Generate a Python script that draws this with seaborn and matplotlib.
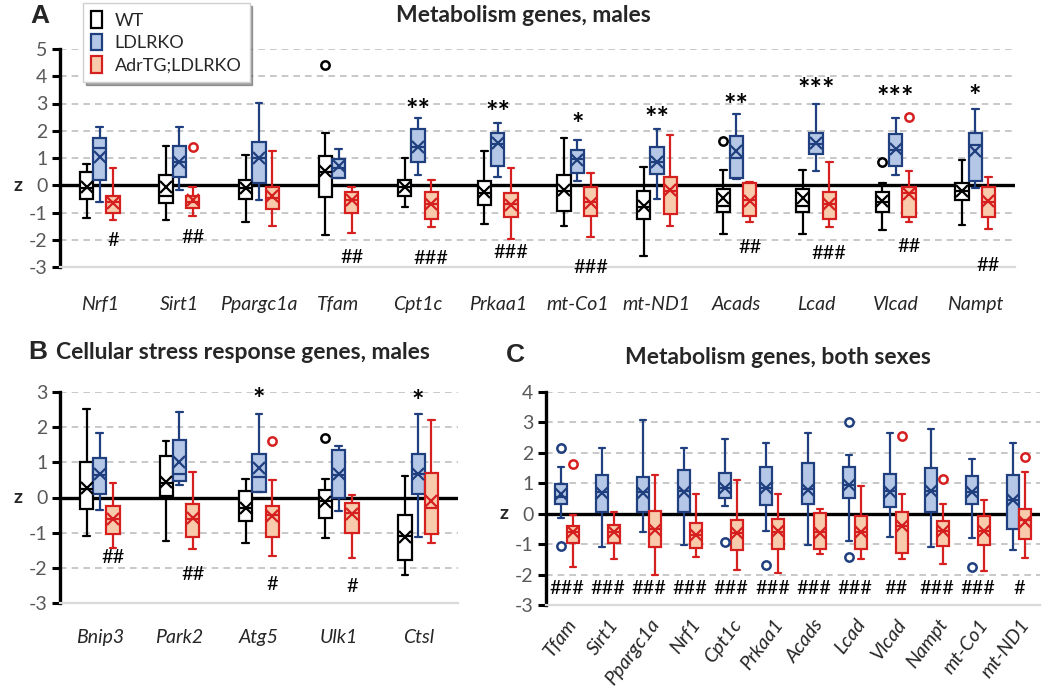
import numpy as np
import pandas as pd
import matplotlib
matplotlib.use("Agg")
import matplotlib.pyplot as plt
import matplotlib.transforms as mtransforms
from matplotlib.patches import Patch
import seaborn as sns

# ---------------- data ----------------
groups = ["WT", "LDLRKO", "AdrTG;LDLRKO"]

# stats per box: (whisker low, q1, median, q3, whisker high, mean)
A_genes = ["Nrf1", "Sirt1", "Ppargc1a", "Tfam", "Cpt1c", "Prkaa1", "mt-Co1", "mt-ND1",
           "Acads", "Lcad", "Vlcad", "Nampt"]
A_WT = [(-1.20, -0.50, -0.10, 0.50, 0.77, -0.08), (-1.26, -0.65, -0.40, 0.38, 1.45, -0.08),
        (-1.36, -0.49, -0.10, 0.20, 1.12, -0.10), (-1.83, -0.43, 0.50, 1.09, 1.91, 0.54),
        (-0.81, -0.38, -0.05, 0.20, 1.00, -0.07), (-1.41, -0.71, -0.30, 0.14, 1.24, -0.26),
        (-1.50, -0.96, -0.20, 0.36, 1.73, -0.16), (-2.60, -1.24, -0.80, -0.20, 0.66, -0.77),
        (-1.79, -0.98, -0.75, -0.13, 0.57, -0.47), (-1.79, -0.98, -0.75, -0.13, 0.57, -0.47),
        (-1.63, -0.98, -0.60, -0.26, 0.10, -0.59), (-1.47, -0.53, -0.20, 0.10, 0.93, -0.20)]
A_KO = [(-0.60, 0.20, 1.38, 1.75, 2.15, 1.05), (-0.16, 0.30, 0.85, 1.45, 2.13, 0.84),
        (-0.53, 0.08, 1.00, 1.60, 3.03, 0.99), (0.26, 0.26, 0.65, 0.96, 1.34, 0.71),
        (0.36, 0.84, 1.40, 2.06, 2.46, 1.42), (0.32, 0.69, 1.50, 1.91, 2.30, 1.55),
        (0.14, 0.45, 0.95, 1.30, 1.66, 0.93), (-0.49, 0.42, 0.85, 1.42, 2.05, 0.87),
        (0.24, 0.26, 1.00, 1.82, 2.61, 1.24), (0.54, 1.14, 1.50, 1.93, 3.00, 1.54),
        (0.38, 0.69, 1.30, 1.88, 2.46, 1.34), (-0.10, 0.14, 1.46, 1.91, 2.79, 1.27)]
A_TG = [(-1.26, -1.00, -0.60, -0.38, 0.63, -0.65), (-1.14, -0.84, -0.60, -0.40, -0.07, -0.53),
        (-1.48, -0.87, -0.45, -0.07, 1.24, -0.40), (-1.75, -1.00, -0.55, -0.26, -0.07, -0.53),
        (-1.53, -1.23, -0.70, -0.23, 0.20, -0.68), (-1.97, -1.16, -0.70, -0.29, 0.63, -0.71),
        (-1.91, -1.12, -0.60, -0.08, 0.45, -0.65), (-1.48, -1.04, -0.20, 0.32, 1.86, -0.16),
        (-1.35, -1.14, -0.55, 0.08, 0.12, -0.57), (-1.53, -1.23, -0.70, -0.26, 0.85, -0.69),
        (-1.36, -1.16, -0.30, -0.07, 0.54, -0.31), (-1.60, -1.16, -0.60, -0.08, 0.29, -0.59)]
A_outliers = [("Tfam", "WT", 4.41), ("Sirt1", "AdrTG;LDLRKO", 1.42), ("Acads", "WT", 1.64),
              ("Vlcad", "WT", 0.85), ("Vlcad", "AdrTG;LDLRKO", 2.52)]
A_stars = ["", "", "", "", "**", "**", "*", "**", "**", "***", "***", "*"]
A_star_y = [0, 0, 0, 0, 2.73, 2.64, 2.20, 2.43, 2.90, 3.50, 3.20, 3.25]
A_hash = ["#", "##", "", "##", "###", "###", "###", "", "##", "###", "##", "##"]
A_hash_y = [-2.02, -1.90, 0, -2.66, -2.70, -2.48, -3.03, 0, -2.30, -2.50, -2.26, -2.93]

B_genes = ["Bnip3", "Park2", "Atg5", "Ulk1", "Ctsl"]
B_WT = [(-1.09, -0.33, 0.25, 1.00, 2.53, 0.26), (-1.25, 0.05, 0.40, 1.18, 1.60, 0.45),
        (-1.28, -0.66, -0.30, 0.19, 0.52, -0.31), (-1.14, -0.57, -0.10, 0.21, 0.52, -0.12),
        (-2.21, -1.77, -1.10, -0.51, 0.61, -1.11)]
B_KO = [(-0.35, 0.09, 0.65, 1.12, 1.84, 0.67), (0.35, 0.47, 0.68, 1.63, 2.42, 1.02),
        (0.15, 0.17, 0.57, 1.25, 2.38, 0.85), (-0.37, 0.00, 0.65, 1.36, 1.47, 0.68),
        (-1.13, 0.09, 0.68, 1.25, 2.38, 0.68)]
B_TG = [(-1.44, -1.05, -0.60, -0.24, 0.42, -0.62), (-1.46, -1.13, -0.60, -0.18, 0.72, -0.59),
        (-1.66, -1.13, -0.50, -0.23, 0.50, -0.52), (-1.71, -1.00, -0.45, -0.15, 0.07, -0.48),
        (-1.28, -1.04, -0.29, 0.70, 2.20, -0.10)]
B_outliers = [("Atg5", "AdrTG;LDLRKO", 1.60), ("Ulk1", "WT", 1.68)]
B_stars = ["", "", "*", "", "*"]
B_star_y = [0, 0, 2.76, 0, 2.72]
B_hash = ["##", "##", "#", "#", ""]
B_hash_y = [-1.72, -2.19, -2.48, -2.53, 0]

C_genes = ["Tfam", "Sirt1", "Ppargc1a", "Nrf1", "Cpt1c", "Prkaa1", "Acads", "Lcad",
           "Vlcad", "Nampt", "mt-Co1", "mt-ND1"]
C_KO = [(-0.15, 0.33, 0.55, 0.98, 1.55, 0.64), (-1.08, 0.07, 0.70, 1.26, 2.15, 0.68),
        (-0.61, 0.04, 0.70, 1.22, 3.07, 0.68), (-1.02, 0.07, 0.75, 1.44, 2.15, 0.73),
        (0.24, 0.51, 0.85, 1.33, 2.45, 0.84), (-0.58, 0.29, 0.85, 1.55, 2.34, 0.84),
        (-1.02, 0.33, 0.80, 1.66, 2.65, 0.79), (-0.90, 0.53, 0.95, 1.52, 1.94, 0.95),
        (-0.75, 0.22, 0.75, 1.30, 2.65, 0.73), (-1.08, 0.07, 0.75, 1.50, 2.79, 0.76),
        (-0.80, 0.33, 0.70, 1.25, 1.79, 0.70), (-1.18, -0.51, 0.45, 1.28, 2.34, 0.46)]
C_TG = [(-1.76, -0.97, -0.60, -0.42, -0.04, -0.61), (-1.50, -0.97, -0.60, -0.37, 0.04, -0.59),
        (-2.01, -1.10, -0.50, 0.10, 1.26, -0.53), (-1.41, -1.13, -0.70, -0.31, 0.66, -0.70),
        (-1.85, -1.19, -0.65, -0.20, 1.11, -0.64), (-1.94, -1.16, -0.60, -0.17, 0.65, -0.58),
        (-1.32, -1.17, -0.60, 0.02, 0.15, -0.62), (-1.50, -1.17, -0.60, -0.07, 0.90, -0.61),
        (-1.50, -1.28, -0.40, 0.04, 0.64, -0.42), (-1.66, -1.06, -0.58, -0.23, 0.33, -0.58),
        (-1.87, -1.02, -0.58, -0.07, 0.46, -0.58), (-1.44, -0.84, -0.20, 0.16, 1.36, -0.26)]
C_outliers = [("Tfam", "LDLRKO", 2.15), ("Tfam", "LDLRKO", -1.06), ("Tfam", "AdrTG;LDLRKO", 1.63),
              ("Cpt1c", "LDLRKO", -0.94), ("Prkaa1", "LDLRKO", -1.68), ("Lcad", "LDLRKO", 3.03),
              ("Lcad", "LDLRKO", -1.41), ("Vlcad", "AdrTG;LDLRKO", 2.54),
              ("Nampt", "AdrTG;LDLRKO", 1.14), ("mt-Co1", "LDLRKO", -1.74),
              ("mt-ND1", "AdrTG;LDLRKO", 1.88)]
C_hash = ["###", "###", "###", "###", "###", "###", "###", "###", "##", "###", "###", "#"]
C_hash_y = [-2.45] * 12

# ---------------- style ----------------
FILL = {"WT": "#FFFFFF", "LDLRKO": "#B4C7E7", "AdrTG;LDLRKO": "#F8CBAD"}
EDGE = {"WT": "#000000", "LDLRKO": "#1F3F7F", "AdrTG;LDLRKO": "#D61F1F"}

sns.set_theme(style="white")
plt.rcParams["font.family"] = ["Lato", "DejaVu Sans"]
plt.rcParams["axes.unicode_minus"] = False

fig = plt.figure(figsize=(10.5, 6.99), dpi=100)
W, H = 1050, 699


def ax_at(x0, y0, x1, y1):
    return fig.add_axes([x0 / W, 1 - y1 / H, (x1 - x0) / W, (y1 - y0) / H])


def draw_panel(ax, genes, grps, stats, outliers, width, dodge, ylim):
    for grp, st in zip(grps, stats):
        rows = [(g, grp, v) for g, s in zip(genes, st) for v in s[:5]]
        df = pd.DataFrame(rows, columns=["gene", "group", "z"])
        sns.boxplot(data=df, x="gene", y="z", hue="group", order=genes, hue_order=grps,
                    palette=FILL, saturation=1, linecolor=EDGE[grp], linewidth=1.6,
                    width=width, gap=0, whis=(0, 100), dodge=True, showfliers=False,
                    legend=False, ax=ax)
    means = pd.DataFrame([(g, grp, s[5]) for grp, st in zip(grps, stats)
                          for g, s in zip(genes, st)], columns=["gene", "group", "z"])
    sns.pointplot(data=means, x="gene", y="z", hue="group", order=genes, hue_order=grps,
                  palette=EDGE, dodge=dodge, markers="x", linestyle="none", errorbar=None,
                  markersize=9, markeredgewidth=1.6, legend=False, ax=ax, zorder=5)
    for g, grp, v in outliers:
        od = pd.DataFrame([(g, grp, v)], columns=["gene", "group", "z"])
        sns.pointplot(data=od, x="gene", y="z", hue="group", order=genes, hue_order=grps,
                      palette=EDGE, dodge=dodge, markers="o", linestyle="none",
                      errorbar=None, markersize=6, markeredgewidth=1.8,
                      markerfacecolor="white", legend=False, ax=ax, zorder=5)
    ax.set_ylim(*ylim)
    ax.set_xlim(-0.5, len(genes) - 0.5)
    ax.set_yticks(range(ylim[0], ylim[1] + 1))
    ax.yaxis.grid(True, linestyle=(0, (4, 3)), color="#BFBFBF", linewidth=1.2)
    ax.xaxis.grid(False)
    ax.set_axisbelow(True)
    ax.axhline(0, color="black", linewidth=2.4, zorder=0.9)
    for s in ["top", "right"]:
        ax.spines[s].set_visible(False)
    ax.spines["left"].set_color("black")
    ax.spines["left"].set_linewidth(2.4)
    ax.spines["bottom"].set_color("#D9D9D9")
    ax.spines["bottom"].set_linewidth(1.6)
    ax.tick_params(axis="y", left=True, length=6, width=2.2, color="black",
                   labelsize=14, labelcolor="#595959", pad=3)
    ax.tick_params(axis="x", bottom=False, length=0)
    ax.set_xlabel("")
    ax.set_ylabel("z", rotation=0, fontsize=14, fontweight="bold", va="center")
    ax.yaxis.set_label_coords(-42 / (ax.get_position().width * W), 0,
                              transform=mtransforms.blended_transform_factory(ax.transAxes, ax.transData))


def annotate(ax, texts, ys, offset, size, weight="normal"):
    for i, (t, y) in enumerate(zip(texts, ys)):
        if t:
            ax.text(i + offset, y, t, ha="center", va="center", fontsize=size,
                    fontweight=weight, color="black", zorder=6)


# ---------------- Panel A ----------------
axA = ax_at(60, 49, 1015, 267)
draw_panel(axA, A_genes, groups, [A_WT, A_KO, A_TG], A_outliers, 0.5, 1 / 3, (-3, 5))
axA.set_xticks(range(len(A_genes)))
axA.set_xticklabels(A_genes, fontstyle="italic", fontsize=14)
axA.tick_params(axis="x", pad=21)
annotate(axA, A_stars, A_star_y, 0, 21, "bold")
annotate(axA, A_hash, A_hash_y, 1 / 6, 14.5)

# ---------------- Panel B ----------------
axB = ax_at(60, 392, 458, 603)
draw_panel(axB, B_genes, groups, [B_WT, B_KO, B_TG], B_outliers, 0.5, 1 / 3, (-3, 3))
axB.set_xticks(range(len(B_genes)))
axB.set_xticklabels(B_genes, fontstyle="italic", fontsize=14)
axB.tick_params(axis="x", pad=19)
annotate(axB, B_stars, B_star_y, 0, 21, "bold")
annotate(axB, B_hash, B_hash_y, 1 / 6, 14.5)

# ---------------- Panel C ----------------
axC = ax_at(546, 392, 1040, 605)
draw_panel(axC, C_genes, groups[1:], [C_KO, C_TG], C_outliers, 0.58, 0.29, (-3, 4))
axC.set_xticks(range(len(C_genes)))
axC.set_xticklabels(C_genes, fontstyle="italic", fontsize=14, rotation=53,
                    ha="right", rotation_mode="anchor")
axC.tick_params(axis="x", pad=8)
annotate(axC, C_hash, C_hash_y, 0, 14.5)

# ---------------- titles & legend ----------------
fig.text(40 / W, 1 - 16 / H, "A", fontsize=19, fontweight="bold", ha="center", va="center",
         family=["Liberation Sans", "DejaVu Sans"])
fig.text(523 / W, 1 - 15 / H, "Metabolism genes, males", fontsize=16.5, fontweight="bold",
         ha="center", va="center")
fig.text(38 / W, 1 - 352 / H, "B", fontsize=19, fontweight="bold", ha="center", va="center",
         family=["Liberation Sans", "DejaVu Sans"])
fig.text(56 / W, 1 - 353 / H, "Cellular stress response genes, males", fontsize=16.5,
         fontweight="bold", ha="left", va="center")
fig.text(515 / W, 1 - 355 / H, "C", fontsize=19, fontweight="bold", ha="center", va="center",
         family=["Liberation Sans", "DejaVu Sans"])
fig.text(778 / W, 1 - 357 / H, "Metabolism genes, both sexes", fontsize=16.5,
         fontweight="bold", ha="center", va="center")

handles = [Patch(facecolor=FILL[g], edgecolor=EDGE[g], linewidth=1.6, label=g) for g in groups]
leg = fig.legend(handles=handles, loc="upper left", bbox_to_anchor=(83 / W, 1 - 3 / H),
                 borderaxespad=0, fontsize=13, frameon=True, fancybox=False, shadow=True,
                 handlelength=0.6, handleheight=1.05, handletextpad=0.7,
                 labelspacing=0.28, borderpad=0.45, edgecolor="#D0D0D0")
leg.get_frame().set_linewidth(1.0)

fig.savefig("out.png", dpi=100)
